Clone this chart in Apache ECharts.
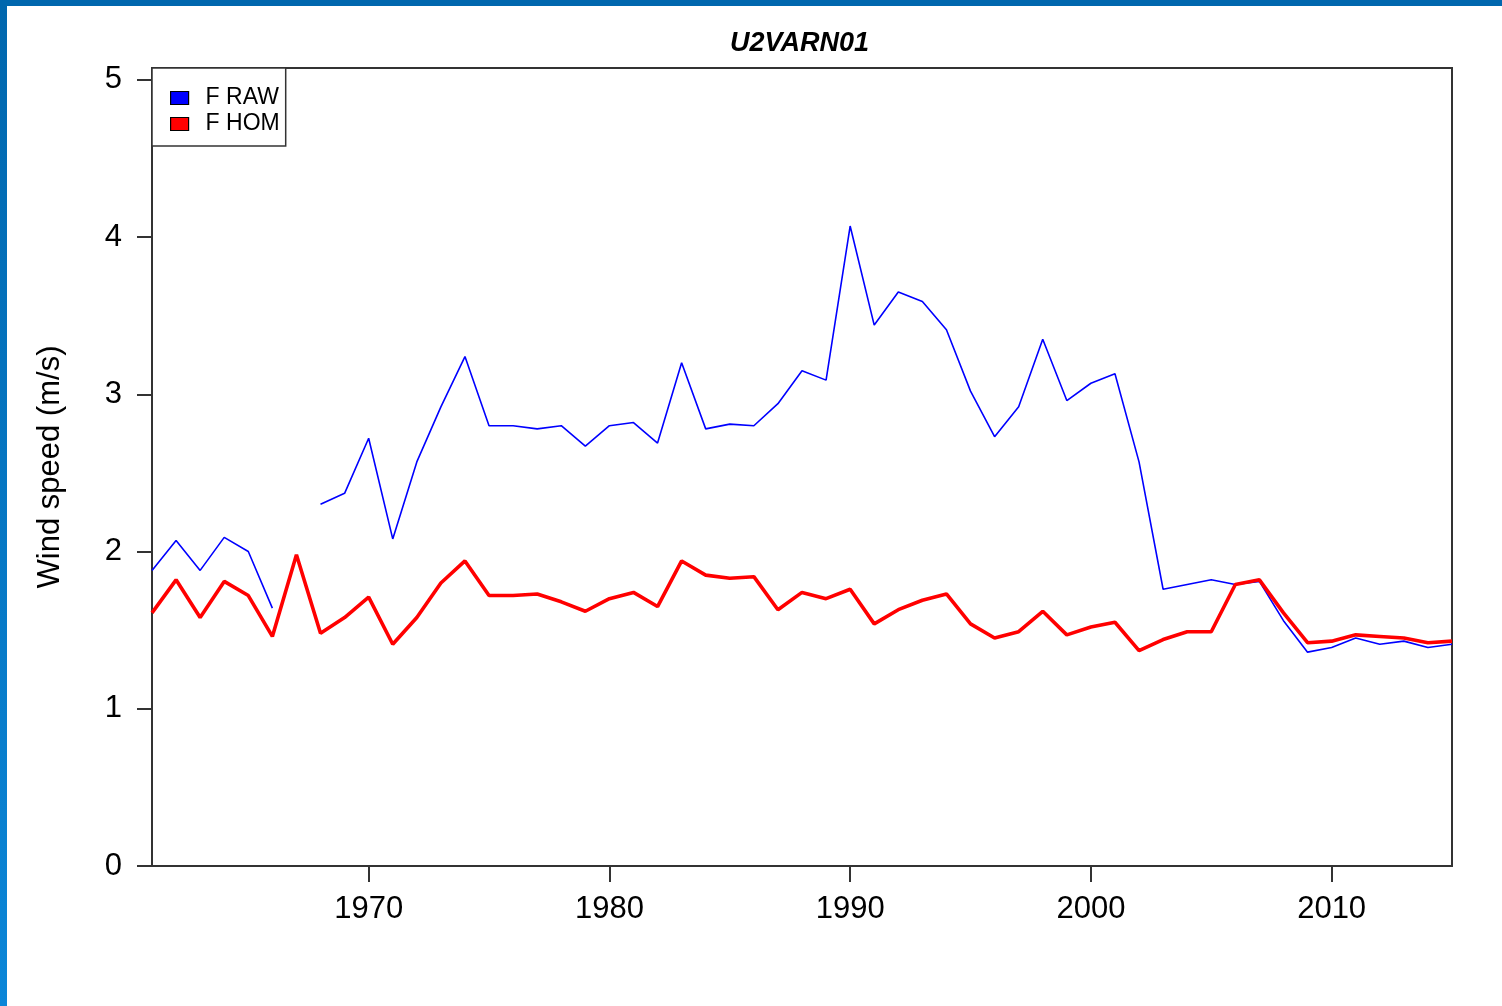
<!DOCTYPE html>
<html>
<head>
<meta charset="utf-8">
<title>U2VARN01</title>
<script src="https://cdn.jsdelivr.net/npm/echarts@6/dist/echarts.min.js"></script>
<style>
  html, body { margin: 0; padding: 0; width: 1502px; height: 1006px; overflow: hidden; background: #0067ae; }
  #sheet { position: absolute; left: 7px; top: 6px; right: 0; bottom: 0; background: #ffffff; }
  #edge { position: absolute; left: 0; top: 6px; width: 7px; bottom: 0; background: linear-gradient(#0067ae, #0b86d8); }
  #chart { position: absolute; left: 0; top: 0; width: 1502px; height: 1006px; }
</style>
</head>
<body>
<div id="edge"></div>
<div id="sheet"></div>
<div id="chart"></div>
<script>
// Annual mean wind speed, station U2VARN01
const years = [
  1961, 1962, 1963, 1964, 1965, 1966, 1967, 1968, 1969, 1970,
  1971, 1972, 1973, 1974, 1975, 1976, 1977, 1978, 1979, 1980,
  1981, 1982, 1983, 1984, 1985, 1986, 1987, 1988, 1989, 1990,
  1991, 1992, 1993, 1994, 1995, 1996, 1997, 1998, 1999, 2000,
  2001, 2002, 2003, 2004, 2005, 2006, 2007, 2008, 2009, 2010,
  2011, 2012, 2013, 2014, 2015
];

// raw series (1967 missing)
const rawSpeed = [
  1.88, 2.07, 1.88, 2.09, 2.00, 1.64, null, 2.30, 2.37, 2.72,
  2.08, 2.57, 2.92, 3.24, 2.80, 2.80, 2.78, 2.80, 2.67, 2.80,
  2.82, 2.69, 3.20, 2.78, 2.81, 2.80, 2.94, 3.15, 3.09, 4.07,
  3.44, 3.65, 3.59, 3.41, 3.02, 2.73, 2.92, 3.35, 2.96, 3.07,
  3.13, 2.57, 1.76, 1.79, 1.82, 1.79, 1.81, 1.56, 1.36, 1.39,
  1.45, 1.41, 1.43, 1.39, 1.41
];

// homogenized series
const homSpeed = [
  1.61, 1.82, 1.58, 1.81, 1.72, 1.46, 1.98, 1.48, 1.58, 1.71,
  1.41, 1.58, 1.80, 1.94, 1.72, 1.72, 1.73, 1.68, 1.62, 1.70,
  1.74, 1.65, 1.94, 1.85, 1.83, 1.84, 1.63, 1.74, 1.70, 1.76,
  1.54, 1.63, 1.69, 1.73, 1.54, 1.45, 1.49, 1.62, 1.47, 1.52,
  1.55, 1.37, 1.44, 1.49, 1.49, 1.79, 1.82, 1.61, 1.42, 1.43,
  1.47, 1.46, 1.45, 1.42, 1.43
];

const xTicks = [1970, 1980, 1990, 2000, 2010];
const yTicks = [0, 1, 2, 3, 4, 5];

const pairs = (vals) => years.map((y, i) => [y, vals[i]]);

const FONT = '"Liberation Sans", Arial, Helvetica, sans-serif';
const INK = '#333333';

const chart = echarts.init(document.getElementById('chart'), null, { renderer: 'canvas' });

chart.setOption({
  animation: false,
  backgroundColor: 'transparent',
  textStyle: { fontFamily: FONT },
  title: {
    text: 'U2VARN01',
    left: 730,
    top: 30,
    padding: 0,
    textStyle: { fontFamily: FONT, fontSize: 27, fontWeight: 'bold', fontStyle: 'italic', color: '#000' }
  },
  legend: {
    left: 152,
    top: 68,
    orient: 'vertical',
    padding: [17, 6, 9, 18],
    itemGap: 0,
    itemWidth: 18,
    itemHeight: 13,
    icon: 'rect',
    backgroundColor: '#fff',
    borderColor: INK,
    borderWidth: 1.5,
    borderRadius: 0,
    itemStyle: { borderColor: '#000', borderWidth: 1.2 },
    textStyle: { fontFamily: FONT, fontSize: 23, color: '#000', lineHeight: 26, padding: [0, 0, 0, 12] },
    data: ['F RAW', 'F HOM'],
    selectedMode: false
  },
  grid: {
    left: 152,
    top: 68,
    right: 50,
    bottom: 140,
    show: true,
    borderColor: INK,
    borderWidth: 2,
    backgroundColor: 'transparent'
  },
  xAxis: {
    type: 'value',
    min: 1961,
    max: 2015,
    axisLine: { show: false },
    splitLine: { show: false },
    axisTick: {
      show: true, inside: false, length: 16,
      customValues: xTicks,
      lineStyle: { color: INK, width: 2 }
    },
    axisLabel: {
      show: true, margin: 28,
      customValues: xTicks,
      fontFamily: FONT, fontSize: 31, color: '#000',
      formatter: (v) => String(v)
    }
  },
  yAxis: {
    type: 'value',
    min: 0,
    max: 5.075,
    name: 'Wind speed (m/s)',
    nameLocation: 'middle',
    nameGap: 86,
    nameTextStyle: { fontFamily: FONT, fontSize: 31, color: '#000' },
    axisLine: { show: false },
    splitLine: { show: false },
    axisTick: {
      show: true, inside: false, length: 15,
      customValues: yTicks,
      lineStyle: { color: INK, width: 2 }
    },
    axisLabel: {
      show: true, margin: 30,
      customValues: yTicks,
      fontFamily: FONT, fontSize: 31, color: '#000'
    }
  },
  series: [
    {
      name: 'F RAW',
      type: 'line',
      data: pairs(rawSpeed),
      showSymbol: false,
      connectNulls: false,
      lineStyle: { color: '#0000ff', width: 1.6 },
      itemStyle: { color: '#0000ff' },
      z: 2
    },
    {
      name: 'F HOM',
      type: 'line',
      data: pairs(homSpeed),
      showSymbol: false,
      connectNulls: false,
      lineStyle: { color: '#ff0000', width: 3.6 },
      itemStyle: { color: '#ff0000' },
      z: 3
    }
  ]
});
</script>
</body>
</html>
